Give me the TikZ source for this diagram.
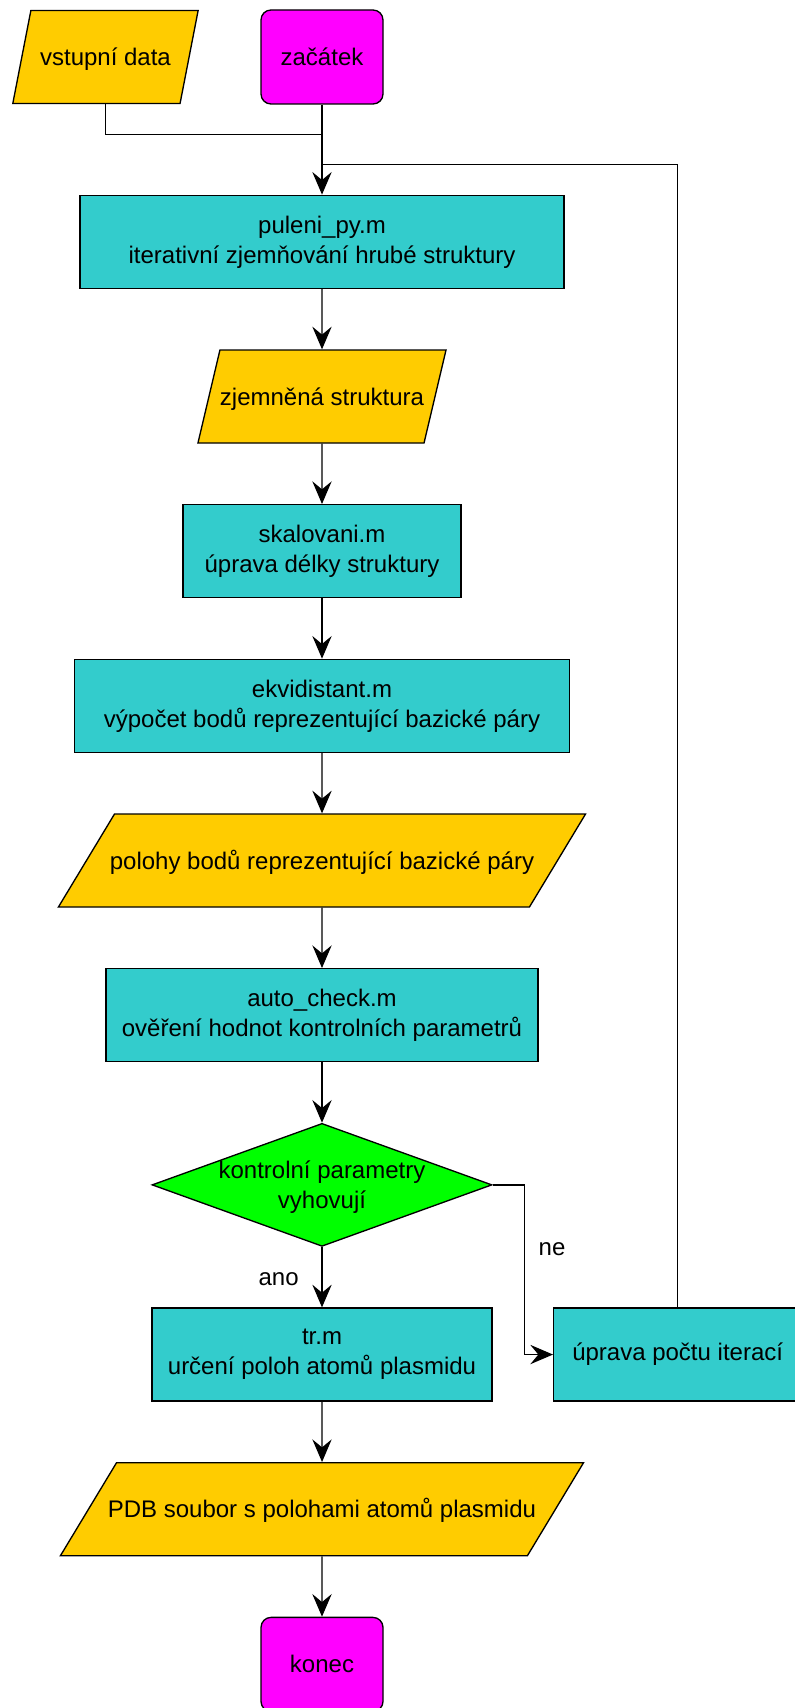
\documentclass[tikz,border=0pt]{standalone}
\usepackage{fontspec}
\setmainfont{Liberation Sans}
\usetikzlibrary{arrows.meta, positioning, shapes.geometric}

\definecolor{dataclr}{HTML}{FFCC00}
\definecolor{procclr}{HTML}{33CCCC}
\definecolor{termclr}{HTML}{FF00FF}
\definecolor{decclr}{HTML}{00FF00}

\begin{document}
\begin{tikzpicture}[node distance=45.25pt, line width=1pt,
	every node/.style={font=\fontsize{18}{22.5}\selectfont, align=center},
	proc/.style={rectangle, draw, fill=procclr, minimum height=69.75pt, inner sep=0pt},
	term/.style={rectangle, draw, rounded corners=7.5pt, fill=termclr, minimum width=91.5pt, minimum height=70.5pt},
	data/.style={trapezium, trapezium stretches body=true, draw, fill=dataclr, text height=41.25pt, text depth=28.5pt, inner sep=0pt},
	dec/.style={diamond, draw, fill=decclr, aspect=2.76, inner ysep=0pt, inner xsep=-12pt, text depth=-2.8pt, minimum width=255pt, minimum height=92.25pt},
	lbl/.style={inner sep=0pt},
	>={Stealth[length=17pt, width=14.5pt, inset=6pt]}]
	\useasboundingbox (0,0) rectangle (596.25pt,-1281pt);

	\node[term] (start) at (241.5pt,-42.75pt) {začátek};
	\node[data, minimum width=139pt, trapezium left angle=79, trapezium right angle=101] (vst) at (79.1pt,-42.75pt) {vstupní data};
	\node[proc, minimum width=363pt, below=67.5pt of start] (pul) {puleni\_py.m\\iterativní zjemňování hrubé struktury};
	\node[data, minimum width=184.5pt, trapezium left angle=76.7, trapezium right angle=103.3, below=of pul] (zjem) {zjemněná struktura};
	\node[proc, minimum width=208.5pt, below=of zjem] (skal) {skalovani.m\\úprava délky struktury};
	\node[proc, minimum width=371pt, below=of skal] (ekv) {ekvidistant.m\\výpočet bodů reprezentující bazické páry};
	\node[data, inner xsep=-3.5pt, trapezium left angle=58.9, trapezium right angle=121.1, below=of ekv] (pol) {polohy bodů reprezentující bazické páry};
	\node[proc, minimum width=324pt, below=of pol] (auto) {auto\_check.m\\ověření hodnot kontrolních parametrů};
	\node[dec, below=of auto] (chk) {kontrolní parametry\\vyhovují};
	\node[proc, minimum width=255pt, below=of chk] (tr) {tr.m\\určení poloh atomů plasmidu};
	\node[proc, minimum width=186pt, right=of tr] (upr) {úprava počtu iterací};
	\node[data, inner xsep=-6.5pt, trapezium left angle=58.9, trapezium right angle=121.1, below=of tr] (pdb) {PDB soubor s polohami atomů plasmidu};
	\node[term, below=of pdb] (end) {konec};

	\coordinate[above=45pt of pul] (merge);
	\coordinate[above=22.5pt of pul] (loop);

	\foreach \a/\b in {start/pul, pul/zjem, zjem/skal, skal/ekv, ekv/pol, pol/auto, auto/chk, tr/pdb, pdb/end} {\draw[->] (\a) -- (\b);}
	\draw (vst.south) |- (merge);
	\draw (upr.north) |- (loop);
	\draw[->] (chk) -- node[lbl, left=17pt, pos=0.53] {ano} (tr);
	\draw[->] (chk.east) -- ++(24pt,0) |- node[lbl, right=10pt, pos=0.19] {ne} (upr.west);
\end{tikzpicture}
\end{document}
